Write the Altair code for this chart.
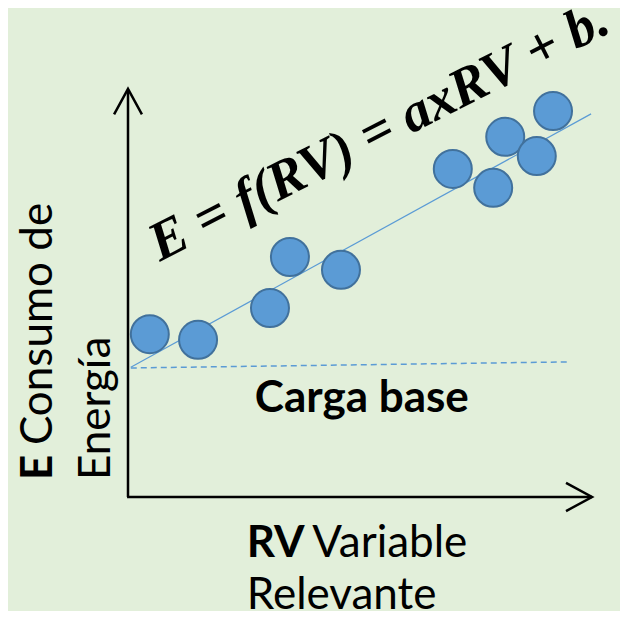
import altair as alt
import pandas as pd

BG = "#E2EFDA"
BLUE = "#5B9BD5"
EDGE = "#41719C"

# scatter points (RV, E)
rv = [0.47, 1.51, 3.06, 3.49, 4.59, 7.00, 7.87, 8.13, 8.81, 9.16]
en = [4.05, 3.91, 4.70, 5.97, 5.65, 8.16, 7.69, 8.96, 8.48, 9.60]

# regression line endpoints
fit_x = [0.06, 9.98]
fit_y = [3.23, 9.53]

# base-load dashed line
base_x = [0.06, 9.46]
base_y = [3.21, 3.36]

# axes (with open arrow heads)
yaxis_x = [0.0, 0.0]
yaxis_y = [0.0, 10.1]
xaxis_x = [-0.02, 10.0]
xaxis_y = [0.0, 0.0]
yhead_x = [-0.30, 0.0, 0.30]
yhead_y = [9.52, 10.15, 9.52]
xhead_x = [9.44, 10.0, 9.44]
xhead_y = [0.35, 0.0, -0.35]

xs = alt.Scale(domain=[0, 10], nice=False, zero=False)
ys = alt.Scale(domain=[0, 10], nice=False, zero=False)
X = lambda f: alt.X(f, type="quantitative", scale=xs, axis=None)
Y = lambda f: alt.Y(f, type="quantitative", scale=ys, axis=None)

def line(xv, yv, **kw):
    df = pd.DataFrame({"x": xv, "y": yv, "o": list(range(len(xv)))})
    return alt.Chart(df).mark_line(**kw).encode(x=X("x"), y=Y("y"), order="o:Q")

axes = (
    line(yaxis_x, yaxis_y, color="black", strokeWidth=2.5)
    + line(xaxis_x, xaxis_y, color="black", strokeWidth=2.5)
    + line(yhead_x, yhead_y, color="black", strokeWidth=2.5)
    + line(xhead_x, xhead_y, color="black", strokeWidth=2.5)
)

fit = line(fit_x, fit_y, color=BLUE, strokeWidth=1.2)
base = line(base_x, base_y, color=BLUE, strokeWidth=1.5, strokeDash=[6, 4])

pts = alt.Chart(pd.DataFrame({"x": rv, "y": en})).mark_point(
    shape="circle", filled=True, size=1444, fill=BLUE, stroke=EDGE,
    strokeWidth=2, opacity=1, fillOpacity=1
).encode(x=X("x"), y=Y("y"))

def txt(label, x, y, size, font="Lato", weight="normal", style="normal",
        angle=0, dx=0):
    df = pd.DataFrame({"x": [x], "y": [y], "t": [label]})
    kw = dict(font=font, fontSize=size, fontWeight=weight, fontStyle=style,
              align="left", baseline="alphabetic", color="black", dx=dx)
    if angle:
        kw["angle"] = angle
    return alt.Chart(df).mark_text(**kw).encode(x=X("x"), y=Y("y"), text="t:N")

equation = txt("E = f(RV) = axRV + b.", 0.69, 5.85, 55,
               font="Liberation Serif", weight="bold", style="italic", angle=333)

carga = alt.Chart(pd.DataFrame({"x": [5.04], "y": [2.12], "t": ["Carga base"]})).mark_text(
    font="Lato", fontSize=44, fontWeight="bold", align="center",
    baseline="alphabetic", color="black"
).encode(x=X("x"), y=Y("y"), text="t:N")

ylab = (
    txt("E", -1.64, 0.42, 44, weight="bold", angle=270)
    + txt("Consumo de", -1.64, 0.42, 44, angle=270, dx=35)
    + txt("Energía", 0.0 - 18 / 46.4, 0.42, 44, angle=270)
)

xlab = (
    txt("RV", 2.56, -1.49, 44, weight="bold")
    + txt("Variable", 3.97, -1.49, 44)
    + txt("Relevante", 2.56, -2.79, 44)
)

chart = alt.layer(
    base, fit, pts, axes, equation, carga, ylab, xlab
).properties(
    width=464, height=402,
    padding={"left": 120, "top": 87, "right": 28, "bottom": 114},
    autosize=alt.AutoSizeParams(type="none"),
    background=BG,
).configure_view(stroke=None, fill=BG)

chart.save("out.html", embed_options={"renderer": "svg", "actions": False})
